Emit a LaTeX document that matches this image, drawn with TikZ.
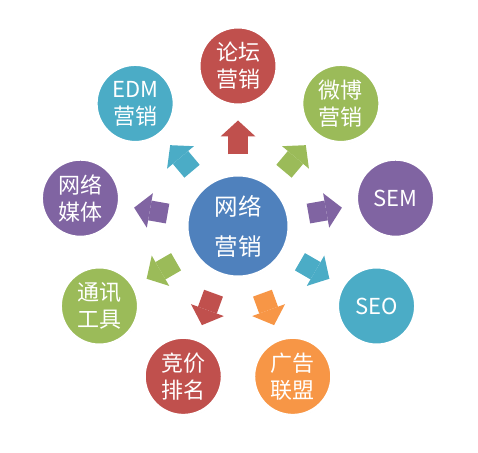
\documentclass[tikz,border=0pt]{standalone}
\usepackage{fontspec}
\setmainfont{Noto Sans CJK SC}
\usetikzlibrary{arrows.meta,shadows}

\definecolor{ofblue}{HTML}{4F81BD}
\definecolor{ofred}{HTML}{C0504D}
\definecolor{ofgreen}{HTML}{9BBB59}
\definecolor{ofpurple}{HTML}{8064A2}
\definecolor{ofteal}{HTML}{4BACC6}
\definecolor{oforange}{HTML}{F79646}

\tikzset{
  ball/.style={circle, draw=white, line width=3pt, inner sep=0pt, text=white, align=center,
    drop shadow={shadow xshift=0.6pt, shadow yshift=-0.8pt, opacity=0.25, fill=black!70}},
  hub/.style={ball, fill=ofblue, minimum size=102pt, font=\fontsize{23.5}{40}\selectfont},
  petal/.style={ball, minimum size=78pt, font=\fontsize{22}{27}\selectfont},
  push/.style={line width=20pt, -{Triangle[width=35pt,length=16pt,line width=0pt]},
    shorten <=19pt, shorten >=14pt}
}

\begin{document}
\begin{tikzpicture}
    \useasboundingbox (-238pt,-226pt) rectangle (240pt,226pt);

    \node[hub] (hub) at (0,0) {网络\\营销};

    \node[petal, fill=ofred]    (forum) at (90:160pt)  {论坛\\营销};
    \node[petal, fill=ofgreen]  (weibo) at (50:160pt)  {微博\\营销};
    \node[petal, fill=ofpurple] (sem)   at (10:160pt)  {SEM};
    \node[petal, fill=ofteal]   (seo)   at (-30:160pt) {SEO};
    \node[petal, fill=oforange] (union) at (-70:160pt) {广告\\联盟};
    \node[petal, fill=ofred]    (bid)   at (-110:160pt) {竞价\\排名};
    \node[petal, fill=ofgreen]  (im)    at (-150:160pt) {通讯\\工具};
    \node[petal, fill=ofpurple] (media) at (170:160pt) {网络\\媒体};
    \node[petal, fill=ofteal]   (edm)   at (130:160pt) {EDM\\营销};

    \draw[push, ofred]    (hub) -- (forum);
    \draw[push, ofgreen]  (hub) -- (weibo);
    \draw[push, ofpurple] (hub) -- (sem);
    \draw[push, ofteal]   (hub) -- (seo);
    \draw[push, oforange] (hub) -- (union);
    \draw[push, ofred]    (hub) -- (bid);
    \draw[push, ofgreen]  (hub) -- (im);
    \draw[push, ofpurple] (hub) -- (media);
    \draw[push, ofteal]   (hub) -- (edm);
\end{tikzpicture}
\end{document}
